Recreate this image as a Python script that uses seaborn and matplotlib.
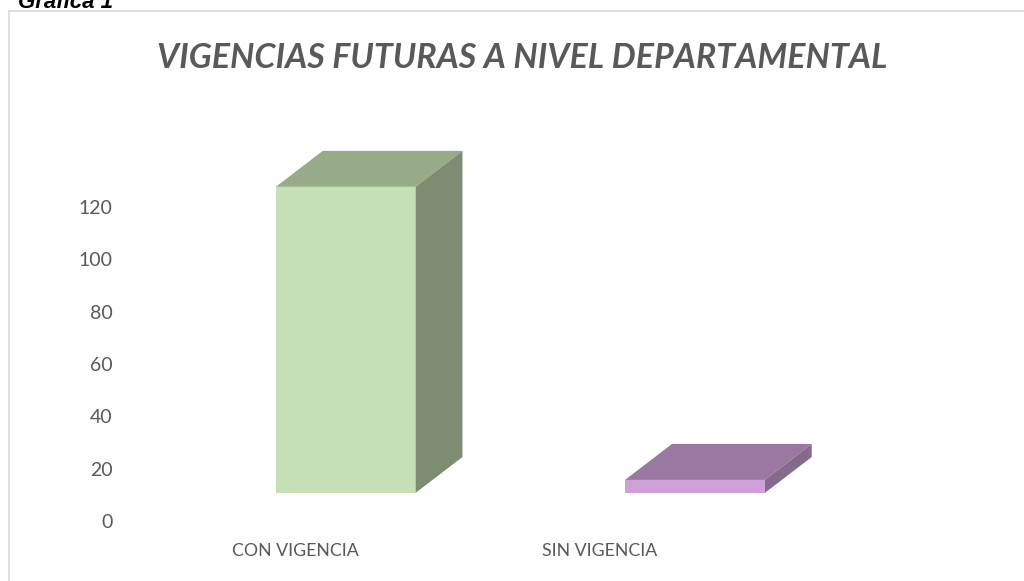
import numpy as np
import pandas as pd
import matplotlib
matplotlib.use('Agg')
import matplotlib.pyplot as plt
import matplotlib.transforms as mtransforms
from matplotlib.patches import Polygon, Rectangle
import seaborn as sns

# datos
categorias = ['CON VIGENCIA', 'SIN VIGENCIA']
valores = [117, 5]
ticks_y = [0, 20, 40, 60, 80, 100, 120]

col_frente = ['#c5e0b4', '#cfa0d8']
col_arriba = ['#97ab89', '#9b78a1']
col_lado = ['#7e8d71', '#866a8c']

sns.set_theme(style='white')
plt.rcParams['font.family'] = ['Lato', 'DejaVu Sans']

df = pd.DataFrame({'cat': categorias, 'val': valores})

W, H = 1024, 581
fig = plt.figure(figsize=(W / 100, H / 100), dpi=100)
# ejes colocados en pixeles
left, right, bottom, top = 171, 869.5, 493, 100.5
ax = fig.add_axes([left / W, (H - bottom) / H, (right - left) / W, (bottom - top) / H])

sns.barplot(data=df, x='cat', y='val', hue='cat', palette=col_frente, width=0.4,
            legend=False, ax=ax, linewidth=0, saturation=1)
ax.set_xlim(-0.5, 1.5)
ax.set_ylim(0, 150)

# profundidad 3D (en pixeles -> datos)
px_x = (right - left) / 2.0
px_y = (bottom - top) / 150.0
dx = 47 / px_x
dy = 36 / px_y
for i, p in enumerate(ax.patches):
    x0, y0 = p.get_x(), p.get_y()
    w, h = p.get_width(), p.get_height()
    arriba = Polygon([(x0, y0 + h), (x0 + w, y0 + h), (x0 + w + dx, y0 + h + dy), (x0 + dx, y0 + h + dy)],
                     closed=True, facecolor=col_arriba[i], edgecolor='none', zorder=1)
    lado = Polygon([(x0 + w, y0), (x0 + w + dx, y0 + dy), (x0 + w + dx, y0 + h + dy), (x0 + w, y0 + h)],
                   closed=True, facecolor=col_lado[i], edgecolor='none', zorder=1)
    ax.add_patch(arriba)
    ax.add_patch(lado)
    p.set_zorder(2)

for s in ax.spines.values():
    s.set_visible(False)
ax.set_xlabel('')
ax.set_ylabel('')
ax.set_yticks(ticks_y)
ax.set_yticklabels([str(t) for t in ticks_y])
ax.tick_params(axis='y', length=0, pad=42, labelsize=14, labelcolor='#595959')
ax.tick_params(axis='x', length=0, pad=36, labelsize=12.8, labelcolor='#595959')

# etiquetas desplazadas como en la vista 3D
for lab in ax.get_yticklabels():
    lab.set_transform(lab.get_transform() + mtransforms.ScaledTranslation(0, -28 / 100, fig.dpi_scale_trans))
desp_x = [-50, -95]
for lab, d in zip(ax.get_xticklabels(), desp_x):
    lab.set_transform(lab.get_transform() + mtransforms.ScaledTranslation(d / 100, 0, fig.dpi_scale_trans))

fig.text(522 / W, 1 - 58 / H, 'VIGENCIAS FUTURAS A NIVEL DEPARTAMENTAL', ha='center', va='center',
         fontsize=24.5, fontweight='bold', style='italic', color='#595959')
fig.text(18 / W, 1 - 8 / H, 'Gráfica 1', ha='left', va='baseline', fontsize=16, fontweight='bold',
         style='italic', color='black', family=['Liberation Sans', 'DejaVu Sans'])

fig.patches.append(Rectangle((8.5 / W, -0.1), 1.2, 1 - 10.5 / H + 0.1, transform=fig.transFigure,
                             fill=False, edgecolor='#d9d9d9', linewidth=1.2))

fig.savefig('out.png', dpi=100)
